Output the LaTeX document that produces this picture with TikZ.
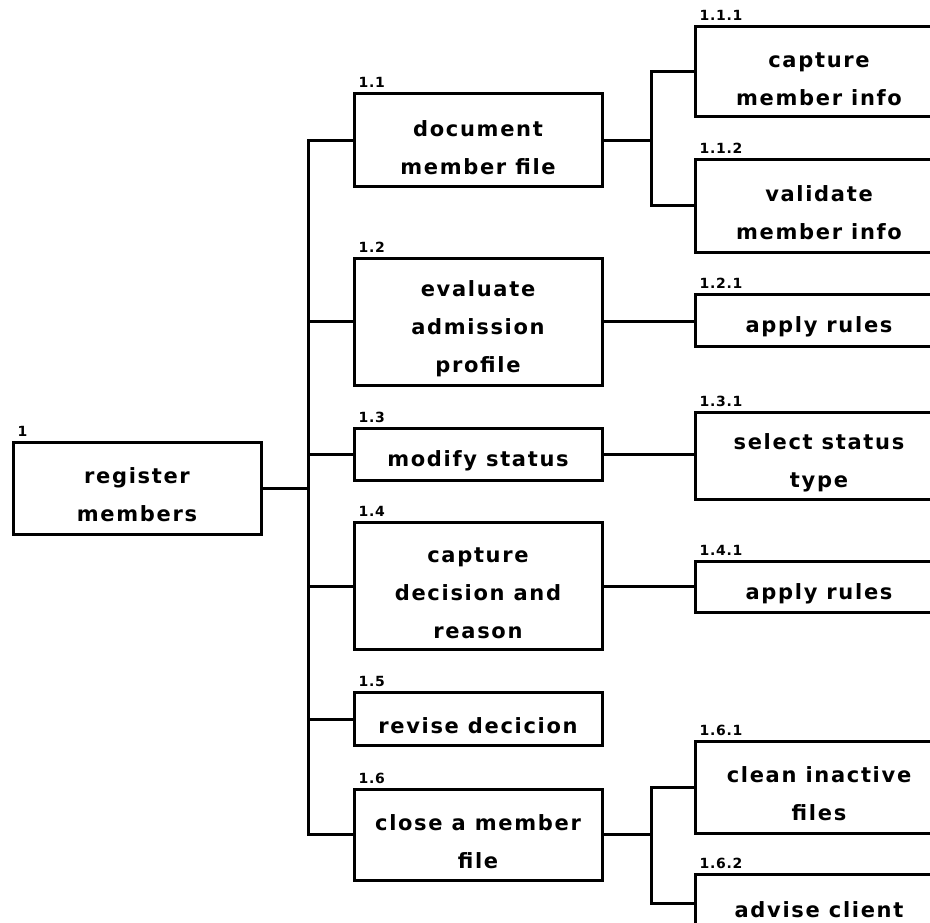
\documentclass[tikz,border=0pt]{standalone}
\usepackage{fontspec}
\newfontfamily\boxfont[LetterSpace=8]{DejaVu Sans}
\newfontfamily\numfont[LetterSpace=5]{DejaVu Sans}
\begin{document}
\begin{tikzpicture}[x=1pt,y=-1pt,
  boxtext/.style={align=center, inner sep=0pt, yshift=-7pt,
    font=\boxfont\bfseries\fontsize{21}{38}\selectfont},
  box/.style={draw, line width=3pt, rectangle, minimum width=248pt, inner sep=0pt,
    label={[boxtext]center:#1}},
  lbl/.style={anchor=base west, inner sep=0pt, font=\numfont\bfseries\fontsize{14}{14}\selectfont, xshift=6pt, yshift=4.5pt},
  wire/.style={line width=3pt, line cap=rect}]
\useasboundingbox (0,0) rectangle (930,923);
\fill[white] (0,0) rectangle (930,923);
\clip (0,0) rectangle (930,923);
% level 1
\node[box={register\\members}, minimum height=92pt] (n1) at (137,488) {};
% level 2
\node[box={document\\member file}, minimum height=93pt]  (n11) at (478,140.5) {};
\node[box={evaluate\\admission\\profile}, minimum height=127pt] (n12) at (478,321.5) {};
\node[box={modify status}, minimum height=52pt]  (n13) at (478,454) {};
\node[box={capture\\decision and\\reason}, minimum height=127pt] (n14) at (478,586) {};
\node[box={revise decicion}, minimum height=53pt]  (n15) at (478,719) {};
\node[box={close a member\\file}, minimum height=91pt]  (n16) at (478,834.5) {};
% level 3
\node[box={capture\\member info}, minimum height=90pt] (n111) at (819,72) {};
\node[box={validate\\member info}, minimum height=92pt] (n112) at (819,206) {};
\node[box={apply rules}, minimum height=52pt] (n121) at (819,320) {};
\node[box={select status\\type}, minimum height=87pt] (n131) at (819,455.5) {};
\node[box={apply rules}, minimum height=51pt] (n141) at (819,586.5) {};
\node[box={clean inactive\\files}, minimum height=92pt] (n161) at (819,787) {};
\node[box={advise client}, minimum height=58pt] (n162) at (819,903) {};
% labels
\node[lbl] (l1)   at (n1.north west) {1};
\node[lbl] (l11)  at (n11.north west) {1.1};
\node[lbl] (l12)  at (n12.north west) {1.2};
\node[lbl] (l13)  at (n13.north west) {1.3};
\node[lbl] (l14)  at (n14.north west) {1.4};
\node[lbl] (l15)  at (n15.north west) {1.5};
\node[lbl] (l16)  at (n16.north west) {1.6};
\node[lbl] (l111) at (n111.north west) {1.1.1};
\node[lbl] (l112) at (n112.north west) {1.1.2};
\node[lbl] (l121) at (n121.north west) {1.2.1};
\node[lbl] (l131) at (n131.north west) {1.3.1};
\node[lbl] (l141) at (n141.north west) {1.4.1};
\node[lbl] (l161) at (n161.north west) {1.6.1};
\node[lbl] (l162) at (n162.north west) {1.6.2};
% trunk
\coordinate (tx) at (308,0);
\coordinate (bx) at (651,0);
\draw[wire] (n1.east) -- (n1.east -| tx);
\draw[wire] (n11.west -| tx) -- (n16.west -| tx);
\foreach \n in {n11,n12,n13,n14,n15,n16} \draw[wire] (\n.west) -- (\n.west -| tx);
% level 2 to 3
\draw[wire] (n11.east) -- (n11.east -| bx);
\draw[wire] (n111.west) -| (n11.east -| bx) |- (n112.west);
\draw[wire] (n12.east) -- (n12.east -| n121.west);
\draw[wire] (n13.east) -- (n13.east -| n131.west);
\draw[wire] (n14.east) -- (n14.east -| n141.west);
\draw[wire] (n16.east) -- (n16.east -| bx);
\draw[wire] (n161.west) -| (n16.east -| bx) |- (n162.west);
\end{tikzpicture}
\end{document}
